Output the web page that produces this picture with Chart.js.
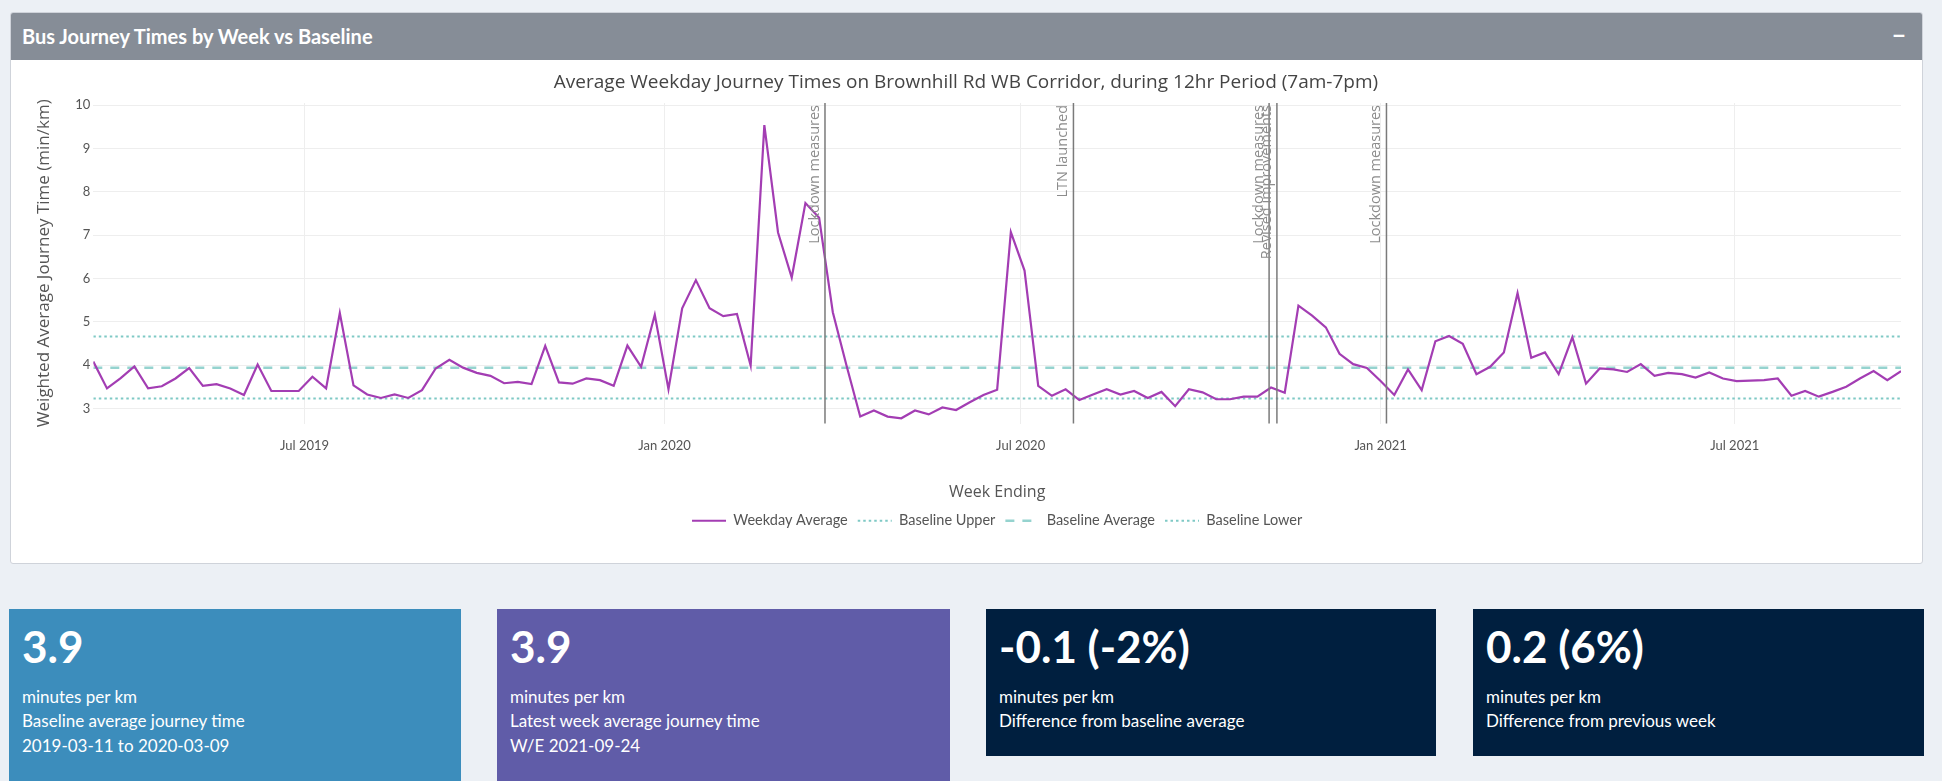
<!DOCTYPE html>
<html>
<head>
<meta charset="utf-8">
<title>Bus Journey Times by Week vs Baseline</title>
<script src="https://cdn.jsdelivr.net/npm/chart.js@4.4.0/dist/chart.umd.min.js"></script>
<style>
  html, body { margin: 0; padding: 0; }
  body { width: 1942px; height: 781px; background: #ecf0f5; position: relative; overflow: hidden; font-family: Lato, sans-serif; }
  .box { position: absolute; left: 10px; top: 12px; width: 1911px; height: 550px; background: #fff; border: 1px solid #cfd3da; border-radius: 3px; overflow: hidden; }
  .box-header { position: relative; height: 47px; line-height: 47px; background: #868d97; color: #fff; font-weight: bold; font-size: 20px; padding-left: 11px; }
  .box-header .tool { position: absolute; right: 16px; top: -2px; font-size: 24px; }
  #chartWrap { position: absolute; left: 0; top: 47px; width: 1911px; height: 503px; }
  .card { position: absolute; top: 609px; color: #fff; }
  .card .big { position: absolute; left: 13px; top: 15px; font-weight: bold; font-size: 44px; line-height: 44px; }
  .card .sub { position: absolute; left: 13px; top: 75.5px; font-size: 17px; line-height: 24.5px; }
</style>
</head>
<body>
<div class="box">
  <div class="box-header">Bus Journey Times by Week vs Baseline<span class="tool">&minus;</span></div>
  <div id="chartWrap"><canvas id="journeyChart" width="1911" height="503"></canvas></div>
</div>

<div class="card" style="left:9px; width:452px; height:172px; background:#3c8dbc;">
  <div class="big">3.9</div>
  <div class="sub">minutes per km<br>Baseline average journey time<br>2019-03-11 to 2020-03-09</div>
</div>
<div class="card" style="left:497px; width:453px; height:172px; background:#605ca8;">
  <div class="big">3.9</div>
  <div class="sub">minutes per km<br>Latest week average journey time<br>W/E 2021-09-24</div>
</div>
<div class="card" style="left:986px; width:450px; height:147px; background:#001f3f;">
  <div class="big">-0.1 (-2%)</div>
  <div class="sub">minutes per km<br>Difference from baseline average</div>
</div>
<div class="card" style="left:1473px; width:451px; height:147px; background:#001f3f;">
  <div class="big">0.2 (6%)</div>
  <div class="sub">minutes per km<br>Difference from previous week</div>
</div>

<script>
const chartTitle = 'Average Weekday Journey Times on Brownhill Rd WB Corridor, during 12hr Period (7am-7pm)';

// weekly values, week ending Fridays from 2019-03-15 to 2021-09-24
const firstWeekEnding = '2019-03-15';
const weekdayAverage = [
    4.08, 3.46, 3.70, 3.97, 3.46, 3.51, 3.69, 3.93, 3.52, 3.56,
    3.46, 3.31, 4.01, 3.40, 3.40, 3.40, 3.73, 3.46, 5.20, 3.53,
    3.32, 3.24, 3.32, 3.24, 3.42, 3.92, 4.12, 3.94, 3.82, 3.75,
    3.58, 3.61, 3.56, 4.44, 3.60, 3.57, 3.69, 3.65, 3.52, 4.45,
    3.96, 5.16, 3.44, 5.31, 5.96, 5.31, 5.13, 5.18, 3.99, 9.54,
    7.06, 6.02, 7.74, 7.40, 5.22, 3.99, 2.81, 2.95, 2.81, 2.77,
    2.95, 2.86, 3.02, 2.96, 3.14, 3.31, 3.43, 7.07, 6.18, 3.52,
    3.29, 3.44, 3.19, 3.32, 3.44, 3.32, 3.40, 3.24, 3.38, 3.05,
    3.44, 3.37, 3.21, 3.21, 3.27, 3.27, 3.48, 3.36, 5.37, 5.14,
    4.87, 4.26, 4.02, 3.93, 3.63, 3.31, 3.90, 3.42, 4.55, 4.67,
    4.49, 3.79, 3.96, 4.29, 5.66, 4.17, 4.29, 3.79, 4.64, 3.57,
    3.92, 3.90, 3.84, 4.02, 3.75, 3.82, 3.79, 3.71, 3.83, 3.69,
    3.63, 3.64, 3.65, 3.69, 3.29, 3.40, 3.27, 3.38, 3.50, 3.69,
    3.86, 3.65, 3.86
];

const baselineUpper = 4.66;
const baselineAverage = 3.94;
const baselineLower = 3.23;

const eventDates = ['2020-03-23', '2020-07-28', '2020-11-05', '2020-11-09', '2021-01-04'];
const eventLabels = ['Lockdown measures', 'LTN launched', 'Lockdown measures', 'Revised improvements', 'Lockdown measures'];

const xTickDates = ['2019-07-01', '2020-01-01', '2020-07-01', '2021-01-01', '2021-07-01'];
const xTickLabels = ['Jul 2019', 'Jan 2020', 'Jul 2020', 'Jan 2021', 'Jul 2021'];
const yTickValues = [3, 4, 5, 6, 7, 8, 9, 10];

const DAY = 86400000;
const weekEnding = weekdayAverage.map((v, i) => Date.parse(firstWeekEnding) + i * 7 * DAY);
const firstX = weekEnding[0];
const lastX = weekEnding[weekEnding.length - 1];
const xTickValues = xTickDates.map(d => Date.parse(d));

const baselineColour = '#7fc9c5';

function flatLine(value) {
    return [{ x: firstX, y: value }, { x: lastX, y: value }];
}

// vertical lines for events, labels written upwards to the left of the line
const eventLines = {
    id: 'eventLines',
    afterDatasetsDraw(chart) {
        const { ctx, chartArea, scales: { x } } = chart;
        ctx.save();
        eventDates.forEach((d, i) => {
            const px = x.getPixelForValue(Date.parse(d));
            ctx.strokeStyle = '#7a7a7a';
            ctx.lineWidth = 1.5;
            ctx.setLineDash([]);
            ctx.beginPath();
            ctx.moveTo(px, chartArea.top);
            ctx.lineTo(px, chartArea.bottom);
            ctx.stroke();

            ctx.save();
            ctx.translate(px - 3, chartArea.top + 2);
            ctx.rotate(-Math.PI / 2);
            ctx.font = '14.5px "Open Sans"';
            ctx.fillStyle = '#8c8c8c';
            ctx.textAlign = 'right';
            ctx.textBaseline = 'bottom';
            ctx.fillText(eventLabels[i], 0, 0);
            ctx.restore();
        });
        ctx.restore();
    }
};

// centre the legend under the plot area rather than the whole canvas
const legendUnderPlot = {
    id: 'legendUnderPlot',
    afterLayout(chart) {
        const lg = chart.legend;
        lg.left = chart.chartArea.left;
        lg.right = chart.chartArea.right;
        lg.width = lg.right - lg.left;
    }
};

const ctx = document.getElementById('journeyChart').getContext('2d');
const journeyChart = new Chart(ctx, {
    type: 'line',
    data: {
        datasets: [{
            label: 'Weekday Average',
            data: weekEnding.map((x, i) => ({ x: x, y: weekdayAverage[i] })),
            borderColor: '#a33db3',
            backgroundColor: '#a33db3',
            borderWidth: 2.2,
            pointRadius: 0,
            tension: 0
        }, {
            label: 'Baseline Upper',
            data: flatLine(baselineUpper),
            borderColor: baselineColour,
            borderWidth: 2,
            borderDash: [2.5, 3],
            pointRadius: 0
        }, {
            label: 'Baseline Average',
            data: flatLine(baselineAverage),
            borderColor: '#95d3cf',
            borderWidth: 2.5,
            borderDash: [9, 8],
            pointRadius: 0
        }, {
            label: 'Baseline Lower',
            data: flatLine(baselineLower),
            borderColor: baselineColour,
            borderWidth: 2,
            borderDash: [2.5, 3],
            pointRadius: 0
        }]
    },
    options: {
        responsive: false,
        devicePixelRatio: 1,
        animation: false,
        layout: { padding: { left: 20, right: 21, top: 0, bottom: 25 } },
        plugins: {
            title: {
                display: true,
                text: chartTitle,
                color: '#444',
                font: { family: 'Open Sans', size: 19, weight: 'normal' },
                padding: { top: 11.6, bottom: 8.6 }
            },
            legend: {
                position: 'bottom',
                labels: {
                    usePointStyle: true,
                    pointStyle: 'line',
                    pointStyleWidth: 34,
                    padding: 10,
                    color: '#555',
                    font: { family: 'Lato', size: 14.5 },
                    // point styles drop the dataset dash, so put it back
                    generateLabels: chart => Chart.defaults.plugins.legend.labels.generateLabels(chart).map(item => {
                        item.lineDash = chart.data.datasets[item.datasetIndex].borderDash || [];
                        return item;
                    })
                }
            },
            tooltip: { enabled: false }
        },
        scales: {
            x: {
                type: 'linear',
                min: firstX,
                max: lastX,
                afterBuildTicks: s => { s.ticks = xTickValues.map(v => ({ value: v })); },
                afterFit: s => { s.height = 80; },
                ticks: {
                    autoSkip: false,
                    maxRotation: 0,
                    padding: 14.5,
                    color: '#555',
                    font: { family: 'Lato', size: 13 },
                    callback: v => xTickLabels[xTickValues.indexOf(v)]
                },
                grid: { color: '#eeeeee', drawTicks: false },
                border: { display: false },
                title: {
                    display: true,
                    text: 'Week Ending',
                    color: '#555',
                    font: { family: 'Open Sans', size: 16 },
                    padding: { top: 0, bottom: 1.5 }
                }
            },
            y: {
                min: 2.65,
                max: 10.05,
                afterBuildTicks: s => { s.ticks = yTickValues.map(v => ({ value: v })); },
                afterFit: s => { s.width = 62.3; },
                ticks: {
                    padding: 3,
                    color: '#555',
                    font: { family: 'Lato', size: 13 }
                },
                grid: { color: '#eeeeee', drawTicks: false },
                border: { display: false },
                title: {
                    display: true,
                    text: 'Weighted Average Journey Time (min/km)',
                    color: '#555',
                    font: { family: 'Open Sans', size: 17 },
                    padding: { top: 2.5, bottom: 0 }
                }
            }
        }
    },
    plugins: [eventLines, legendUnderPlot]
});
</script>
</body>
</html>
